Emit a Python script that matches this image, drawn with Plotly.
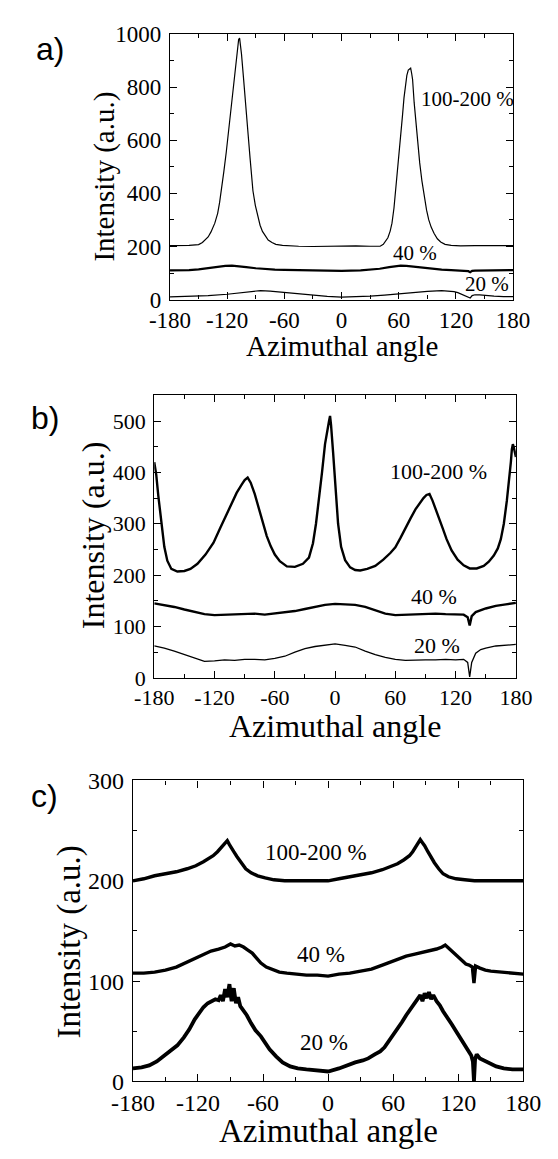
import plotly.graph_objects as go

W, H = 558, 1159
OFF = 8  # default page body margin of the written html

# ---------------- data ----------------
# Panel a
a_hi_x = [-180, -170, -160, -150, -146, -140, -137, -133, -130, -128, -126, -123.5, -121, -118.7, -116, -114, -112,
          -110.5, -109, -108, -107, -106, -105, -103, -101, -99.4, -98, -96, -93, -90.5, -88, -85.5, -83, -80, -77,
          -73, -69, -62, -56, -45, -30, -15, 0, 15, 30, 40.5, 43.8, 46, 48.6, 51, 52.9, 55, 56.8, 58.5, 60, 62, 63.9,
          65.5, 67.1, 68.5, 70, 71.5, 72.5, 73.6, 74.5, 76.2, 78, 80.1, 82, 84.3, 86.5, 89.2, 91.5, 94, 97, 100.5,
          104, 108.6, 115, 124.9, 140, 160, 180]
a_hi_y = [203, 203, 204, 207, 215, 236, 255, 288, 325, 365, 410, 483, 555, 630, 715, 790, 850,
          900, 950, 980, 985, 960, 925, 840, 740, 680, 620, 533, 410, 355, 312, 280, 257, 238, 224,
          215, 208, 204, 202, 201, 200, 201, 201, 202, 201, 201, 208, 218, 233, 258, 288, 345, 410, 470, 533, 612, 692,
          760, 814, 845, 865, 868, 872, 851, 830, 741, 665, 582, 515, 447, 395, 337, 300, 273, 250, 229,
          217, 208, 204, 202, 203, 203, 203]
a_40_x = [-180, -170, -160, -150, -140, -130, -122, -115, -108, -100, -90, -80, -70, -60, -40, -20, 0, 20, 30, 40,
          50, 56, 62, 68, 75, 85, 95, 105, 115, 125, 130, 133, 135, 137, 140, 150, 160, 170, 180]
a_40_y = [110, 110, 111, 114, 119, 124, 127, 128, 126, 122, 118, 115, 113, 112, 110, 109, 108, 110, 112, 116,
          122, 126, 128, 127, 124, 120, 116, 113, 111, 110, 109, 107, 103, 108, 109, 110, 110, 111, 111]
a_20_x = [-180, -160, -140, -120, -105, -95, -85, -75, -60, -45, -30, -15, 0, 15, 30, 45, 60, 75, 90, 105, 112,
          118, 122, 126, 130, 133, 135, 137, 140, 145, 150, 160, 170, 180]
a_20_y = [10, 12, 15, 20, 27, 32, 34, 32, 27, 20, 15, 12, 9, 10, 13, 17, 22, 26, 31, 34, 33,
          30, 26, 20, 16, 12, 6, 15, 18, 18, 16, 13, 11, 11]

# Panel b
b_hi_x = [-180, -178, -176, -174, -172, -170, -167, -163, -157, -150, -144, -137, -129, -121, -114, -106, -98, -93,
          -90, -87, -84, -80, -76, -72, -68, -64, -60, -55, -48, -40, -32, -26, -22, -19, -16, -13, -10, -8, -6, -5,
          -4, -2, 0, 3, 6, 10, 15, 20, 25, 32, 40, 48, 55, 60, 65, 70, 75, 80, 85, 88, 91, 94, 97, 100, 103, 107, 111,
          116, 122, 128, 134, 141, 148, 153, 158, 162, 165, 168, 171, 173, 175, 176, 177, 178, 180]
b_hi_y = [420, 395, 355, 320, 285, 255, 228, 212, 207, 208, 212, 222, 240, 263, 293, 326, 360, 376,
          385, 390, 380, 358, 330, 302, 276, 256, 240, 227, 217, 216, 222, 234, 262, 300, 345, 400, 455, 482, 500, 510,
          492, 440, 375, 300, 255, 229, 215, 210, 209, 212, 218, 230, 243, 254, 272, 292, 310, 328, 343, 350, 356, 358,
          345, 328, 312, 292, 270, 248, 230, 219, 213, 213, 218, 226, 238, 252, 270, 300, 345, 378, 420, 445, 455, 448,
          430]
b_40_x = [-180, -170, -160, -150, -140, -130, -120, -110, -100, -90, -80, -70, -60, -50, -40, -30, -20, -10, 0, 10,
          20, 30, 40, 50, 60, 70, 80, 90, 100, 110, 120, 128, 132, 134, 136, 140, 150, 160, 170, 180]
b_40_y = [145, 142, 138, 133, 128, 124, 122, 123, 124, 124, 125, 123, 125, 127, 130, 134, 138, 142, 144, 143,
          142, 138, 131, 125, 122, 123, 124, 124, 125, 124, 124, 123, 118, 102, 120, 128, 135, 140, 143, 146]
b_20_x = [-180, -170, -160, -150, -140, -130, -120, -110, -100, -90, -80, -70, -60, -50, -40, -30, -20, -10, 0, 10,
          20, 30, 40, 50, 60, 70, 80, 90, 100, 110, 120, 128, 132, 134, 136, 140, 145, 150, 160, 170, 180]
b_20_y = [62, 58, 52, 45, 38, 32, 33, 35, 34, 36, 36, 35, 38, 42, 50, 57, 61, 64, 66, 63,
          60, 52, 45, 40, 36, 34, 35, 35, 35, 36, 35, 36, 30, 2, 30, 48, 55, 58, 62, 63, 65]

# Panel c
c_hi_x = [-180, -170, -160, -150, -140, -130, -122, -115, -110, -106, -102, -99, -97, -95, -93, -91, -89, -87, -84,
          -80, -76, -71, -65, -58, -50, -40, -30, -20, -10, 0, 10, 20, 30, 40, 50, 58, 64, 70, 75, 78, 81, 83, 85, 87,
          89, 92, 95, 98, 102, 106, 111, 118, 126, 135, 150, 165, 180]
c_hi_y = [200, 202, 205, 207, 209, 212, 215, 219, 222, 225, 229, 233, 236, 238, 240, 236, 233, 229, 224,
          218, 212, 208, 205, 203, 201, 200, 200, 200, 200, 200, 202, 204, 206, 208, 211, 214, 217, 221, 225, 229, 234,
          238, 241, 238, 235, 229, 223, 218, 212, 207, 204, 202, 201, 200, 200, 200, 200]
c_40_x = [-180, -170, -160, -150, -140, -130, -122, -115, -108, -101, -95, -90, -86, -82, -78, -74, -70, -66, -62,
          -57, -52, -45, -38, -30, -20, -10, 0, 10, 20, 30, 40, 50, 58, 65, 72, 80, 88, 95, 100, 105, 108, 111, 115,
          119, 123, 127, 130, 133, 134.5, 136, 140, 145, 150, 160, 170, 180]
c_40_y = [108, 108, 109, 111, 114, 119, 123, 127, 130, 132, 134, 137, 135, 136, 134, 131, 128, 123, 118,
          114, 112, 109, 108, 107, 106, 106, 105, 107, 108, 110, 112, 116, 119, 122, 125, 127, 129, 130, 132, 134,
          136, 133, 129, 124, 120, 117, 116, 114, 98, 115, 113, 111, 110, 109, 108, 107]
c_20_x = [-180, -172, -165, -158, -151, -145, -139, -133, -128, -123, -119, -115, -111, -107, -104, -101, -99, -97,
          -95, -93, -91, -89, -87, -85, -83, -81, -78, -75, -71, -67, -62, -58, -54, -48, -42, -35, -28, -20, -10, 0,
          10, 17, 25, 32, 37, 43, 48, 52, 56, 60, 64, 68, 72, 76, 80, 83, 85, 87, 89, 91, 93, 95, 97, 100, 103, 106,
          110, 114, 118, 123, 127, 130, 132, 133.5, 134.5, 135.5, 137, 140, 145, 150, 155, 162, 170, 180]
c_20_y = [13, 14, 16, 20, 26, 31, 36, 44, 52, 62, 68, 74, 78, 80, 82, 81, 86, 80,
          92, 84, 97, 80, 93, 78, 84, 75, 71, 66, 58, 51, 45, 38, 32, 25, 19, 15, 13, 12, 11, 10,
          13, 16, 19, 21, 23, 27, 30, 34, 40, 46, 52, 59, 66, 72, 78, 82, 86, 80, 88, 83, 89, 82, 86, 80, 76, 70,
          64, 57, 50, 42, 35, 30, 26, 20, 0, 22, 27, 23, 20, 17, 15, 13, 12, 12]

x_tickvals = [-180, -120, -60, 0, 60, 120, 180]
x_ticktext = ["-180", "-120", "-60", "0", "60", "120", "180"]
a_yticks = [0, 200, 400, 600, 800, 1000]
b_yticks = [0, 100, 200, 300, 400, 500]
c_yticks = [0, 100, 200, 300]
series_labels = ["100-200 %", "40 %", "20 %"]

# ---------------- layout helpers ----------------
FW, FH = W - OFF, H - OFF


def px(xp):
    return (xp - OFF) / FW


def py(yp):
    return 1 - (yp - OFF) / FH


SERIF = "Liberation Serif, Times New Roman, Times, serif"
SANS = "Liberation Sans, Arial, Helvetica, sans-serif"

panels = [
    dict(l=159, r=529, t=21.5, b=293, yr=[0, 1000], yt=a_yticks, ym=100, tf=23, ttf=29, af=21,
         lw=[1.2, 2.2, 1.2],
         data=[(a_hi_x, a_hi_y), (a_40_x, a_40_y), (a_20_x, a_20_y)],
         ann=[(132, 757), (77, 177), (153, 57)],
         xt=(344, 341), yt_pos=(88, 167), letter=("a)", 30, 37)),
    dict(l=142, r=532, t=391, b=680, yr=[0, 550], yt=b_yticks, ym=50, tf=22, ttf=32, af=22,
         lw=[2.4, 2.4, 1.3],
         data=[(b_hi_x, b_hi_y), (b_40_x, b_40_y), (b_20_x, b_20_y)],
         ann=[(103, 402), (98, 159), (101, 62)],
         xt=(337, 729), yt_pos=(76, 534), letter=("b)", 24, 414)),
    dict(l=119, r=540, t=785, b=1093, yr=[0, 300], yt=c_yticks, ym=50, tf=24, ttf=33, af=23,
         lw=[3.4, 3.4, 3.8],
         data=[(c_hi_x, c_hi_y), (c_40_x, c_40_y), (c_20_x, c_20_y)],
         ann=[(-11, 228), (-7, 127), (-4, 39)],
         xt=(330, 1144), yt_pos=(51, 950), letter=("c)", 24, 801)),
]

fig = go.Figure()
annotations = []
layout = dict(width=FW, height=FH, margin=dict(l=0, r=0, t=0, b=0),
              paper_bgcolor="white", plot_bgcolor="white", showlegend=False)

for i, p in enumerate(panels):
    n = "" if i == 0 else str(i + 1)
    xa, ya = "x" + n, "y" + n
    for (xs, ys), w in zip(p["data"], p["lw"]):
        fig.add_trace(go.Scatter(x=xs, y=ys, mode="lines", xaxis=xa, yaxis=ya,
                                 line=dict(color="black", width=w), hoverinfo="skip"))
    common = dict(showgrid=False, zeroline=False, showline=True, linecolor="black", linewidth=1.3,
                  mirror="allticks", ticks="inside", ticklen=7, tickwidth=1.1, tickcolor="black",
                  tickfont=dict(family=SERIF, size=p["tf"], color="black"))
    layout["xaxis" + n] = dict(common, domain=[px(p["l"]), px(p["r"])], range=[-180, 180],
                               anchor=ya, tickvals=x_tickvals, ticktext=x_ticktext,
                               minor=dict(dtick=30, tick0=0, ticks="inside", ticklen=4,
                                          tickcolor="black", tickwidth=1),
                               ticklabelstandoff=0)
    layout["yaxis" + n] = dict(common, domain=[py(p["b"]), py(p["t"])], range=p["yr"],
                               anchor=xa, tickvals=p["yt"],
                               ticktext=[str(v) for v in p["yt"]],
                               minor=dict(dtick=p["ym"], tick0=0, ticks="inside", ticklen=4,
                                          tickcolor="black", tickwidth=1),
                               ticklabelstandoff=3)
    for (ax_, ay_), txt in zip(p["ann"], series_labels):
        annotations.append(dict(x=ax_, y=ay_, xref=xa, yref=ya, text=txt, showarrow=False,
                                font=dict(family=SERIF, size=p["af"], color="black"),
                                xanchor="center", yanchor="middle"))
    annotations.append(dict(x=px(p["xt"][0]), y=py(p["xt"][1]), xref="paper", yref="paper",
                            text="Azimuthal angle", showarrow=False,
                            font=dict(family=SERIF, size=p["ttf"], color="black"),
                            xanchor="center", yanchor="middle"))
    annotations.append(dict(x=px(p["yt_pos"][0]), y=py(p["yt_pos"][1]), xref="paper", yref="paper",
                            text="Intensity (a.u.)", showarrow=False, textangle=-90,
                            font=dict(family=SERIF, size=p["ttf"], color="black"),
                            xanchor="center", yanchor="middle"))
    lt, lx, ly = p["letter"]
    annotations.append(dict(x=px(lx), y=py(ly), xref="paper", yref="paper", text=lt,
                            showarrow=False, font=dict(family=SANS, size=32, color="black"),
                            xanchor="center", yanchor="middle"))

layout["annotations"] = annotations
fig.update_layout(**layout)
fig.write_html("out.html")
